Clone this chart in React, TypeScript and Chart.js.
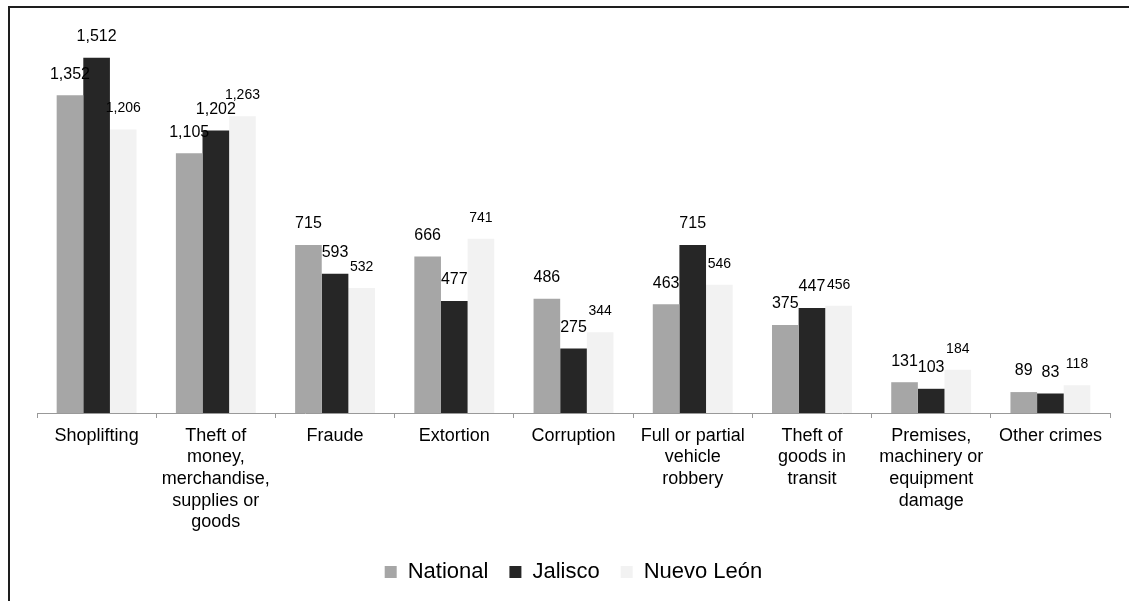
import React, { useEffect, useRef } from "react";
import { Chart, registerables } from "chart.js";

Chart.register(...registerables);

const categories: (string | string[])[] = [
  "Shoplifting",
  ["Theft of", "money,", "merchandise,", "supplies or", "goods"],
  "Fraude",
  "Extortion",
  "Corruption",
  ["Full or partial", "vehicle", "robbery"],
  ["Theft of", "goods in", "transit"],
  ["Premises,", "machinery or", "equipment", "damage"],
  "Other crimes",
];

const seriesNames = ["National", "Jalisco", "Nuevo León"];
const nationalValues = [1352, 1105, 715, 666, 486, 463, 375, 131, 89];
const jaliscoValues = [1512, 1202, 593, 477, 275, 715, 447, 103, 83];
const nuevoLeonValues = [1206, 1263, 532, 741, 344, 546, 456, 184, 118];

const seriesColors = ["#a6a6a6", "#262626", "#f2f2f2"];
const labelFontSizes = [16, 16, 14];

const FONT = "'Liberation Sans', Arial, sans-serif";

const dataLabelPlugin = {
  id: "dataLabels",
  afterDatasetsDraw(chart: any) {
    const ctx = chart.ctx;
    ctx.save();
    ctx.fillStyle = "#000";
    ctx.textAlign = "center";
    ctx.textBaseline = "middle";
    chart.data.datasets.forEach((ds: any, di: number) => {
      const meta = chart.getDatasetMeta(di);
      ctx.font = `${labelFontSizes[di]}px ${FONT}`;
      meta.data.forEach((el: any, i: number) => {
        const v = ds.data[i];
        ctx.fillText(v.toLocaleString("en-US"), el.x, el.y - 21);
      });
    });
    ctx.restore();
  },
};

export default function App() {
  const canvasRef = useRef<HTMLCanvasElement | null>(null);

  useEffect(() => {
    if (!canvasRef.current) return;
    const chart = new Chart(canvasRef.current, {
      type: "bar",
      data: {
        labels: categories,
        datasets: [nationalValues, jaliscoValues, nuevoLeonValues].map((vals, i) => ({
          label: seriesNames[i],
          data: vals,
          backgroundColor: seriesColors[i],
          borderWidth: 0,
          categoryPercentage: 0.67,
          barPercentage: 1,
        })),
      },
      options: {
        responsive: false,
        animation: false,
        layout: { padding: { left: 37, right: 19, top: 37, bottom: 8 } },
        plugins: {
          tooltip: { enabled: false },
          legend: {
            position: "bottom",
            labels: {
              boxWidth: 12,
              boxHeight: 12,
              padding: 21,
              color: "#000",
              font: { size: 22, family: FONT },
            },
          },
        },
        scales: {
          x: {
            grid: {
              drawOnChartArea: false,
              drawTicks: true,
              tickLength: 5,
              color: "#999",
            },
            border: { color: "#999", width: 1 },
            ticks: {
              color: "#000",
              font: { size: 18, family: FONT, lineHeight: 1.2 },
              maxRotation: 0,
              minRotation: 0,
              autoSkip: false,
              padding: 7,
            },
          },
          y: {
            display: false,
            min: 0,
            max: 1600,
          },
        },
      },
      plugins: [dataLabelPlugin],
    });
    return () => chart.destroy();
  }, []);

  return (
    <>
      <div
        style={{
          position: "fixed",
          left: 0,
          top: 0,
          width: 1129,
          height: 601,
          background: "#fff",
        }}
      >
        <canvas ref={canvasRef} width={1129} height={601} style={{ width: 1129, height: 601 }} />
      </div>
      <div
        style={{
          position: "fixed",
          left: 8,
          top: 6,
          width: 3000,
          height: 3000,
          borderLeft: "2px solid #1e1e1e",
          borderTop: "2px solid #1e1e1e",
          pointerEvents: "none",
        }}
      />
    </>
  );
}
